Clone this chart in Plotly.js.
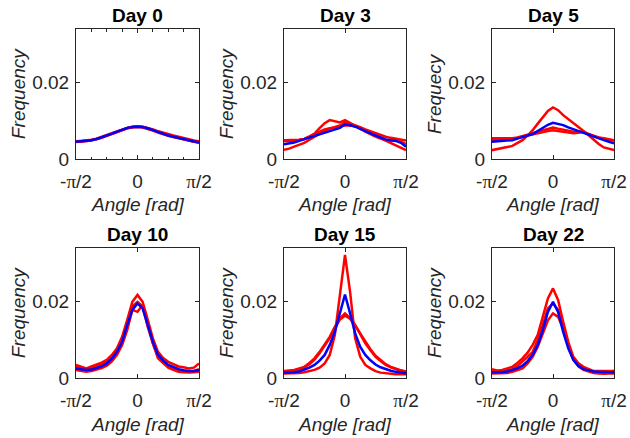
<!DOCTYPE html>
<html>
<head>
<meta charset="utf-8">
<script src="https://cdn.plot.ly/plotly-3.0.1.min.js"></script>
<style>html,body{margin:0;padding:0;background:#fff;}#chart{width:630px;height:438px;}</style>
</head>
<body>
<div id="chart"></div>
<script>
// Angle grid (rad), read at 25 positions from -pi/2 to pi/2
const angle = [-1.5708,-1.4399,-1.3090,-1.1781,-1.0472,-0.9163,-0.7854,-0.6545,-0.5236,-0.3927,-0.2618,-0.1309,0,
               0.1309,0.2618,0.3927,0.5236,0.6545,0.7854,0.9163,1.0472,1.1781,1.3090,1.4399,1.5708];

const dayTitles = ["Day 0","Day 3","Day 5","Day 10","Day 15","Day 22"];
const yLabels = ["Frequency","Frequency","Frequecy","Frequency","Frequency","Frequency"];
const xTickVals = [-1.5708, 0, 1.5708];
const xTickText = ['-<span style="font-family:Liberation Serif">π</span>/2','0','<span style="font-family:Liberation Serif">π</span>/2'];
const yTickVals = [0, 0.02];
const yTickText = ['0','0.02'];

// Day 0
const d0_r1 = [.0044,.0046,.0047,.0050,.0053,.0057,.0062,.0067,.0072,.0077,.0081,.0084,.0085,.0084,.0081,.0077,.0072,.0068,.0064,.0061,.0058,.0054,.0051,.0048,.0046];
const d0_r2 = [.0046,.0047,.0048,.0049,.0052,.0055,.0060,.0065,.0070,.0075,.0080,.0082,.0083,.0082,.0079,.0074,.0069,.0064,.0060,.0057,.0054,.0050,.0047,.0044,.0042];
const d0_r3 = [.0045,.0045,.0046,.0049,.0051,.0056,.0061,.0066,.0071,.0076,.0080,.0083,.0085,.0083,.0080,.0076,.0071,.0066,.0062,.0058,.0055,.0051,.0047,.0045,.0044];
const d0_mean = [.0045,.0046,.0047,.0049,.0052,.0056,.0061,.0066,.0071,.0076,.0081,.0083,.0084,.0083,.0080,.0075,.0070,.0065,.0061,.0058,.0055,.0051,.0048,.0045,.0043];
// Day 3
const d3_r1 = [.0047,.0046,.0047,.0049,.0052,.0058,.0066,.0080,.0093,.0101,.0097,.0095,.0101,.0094,.0088,.0079,.0071,.0064,.0058,.0053,.0049,.0048,.0048,.0045,.0039];
const d3_r2 = [.0024,.0027,.0032,.0037,.0042,.0050,.0058,.0066,.0073,.0079,.0084,.0087,.0088,.0087,.0086,.0081,.0075,.0068,.0062,.0055,.0048,.0042,.0036,.0030,.0023];
const d3_r3 = [.0049,.0049,.0050,.0050,.0052,.0058,.0064,.0070,.0077,.0080,.0082,.0086,.0096,.0092,.0088,.0083,.0077,.0072,.0067,.0062,.0058,.0055,.0052,.0050,.0048];
const d3_mean = [.0038,.0040,.0043,.0047,.0052,.0056,.0060,.0064,.0068,.0073,.0077,.0081,.0090,.0088,.0084,.0078,.0071,.0066,.0061,.0056,.0051,.0049,.0047,.0042,.0032];
// Day 5
const d5_r1 = [.0023,.0025,.0028,.0031,.0034,.0041,.0049,.0061,.0075,.0092,.0110,.0125,.0134,.0127,.0114,.0103,.0093,.0083,.0073,.0061,.0049,.0039,.0030,.0026,.0023];
const d5_r2 = [.0054,.0054,.0053,.0054,.0054,.0056,.0059,.0063,.0067,.0071,.0075,.0079,.0082,.0079,.0076,.0073,.0071,.0071,.0070,.0064,.0059,.0056,.0054,.0051,.0049];
const d5_r3 = [.0049,.0050,.0051,.0051,.0052,.0055,.0058,.0061,.0064,.0068,.0071,.0073,.0075,.0073,.0071,.0069,.0067,.0068,.0071,.0065,.0060,.0055,.0051,.0050,.0048];
const d5_mean = [.0045,.0046,.0047,.0048,.0049,.0053,.0058,.0061,.0065,.0073,.0082,.0089,.0094,.0091,.0088,.0082,.0077,.0072,.0068,.0063,.0058,.0053,.0049,.0045,.0041];
// Day 10
const d10_r1 = [.0034,.0030,.0025,.0030,.0034,.0040,.0047,.0060,.0077,.0107,.0151,.0198,.0216,.0198,.0151,.0103,.0068,.0052,.0042,.0036,.0030,.0028,.0025,.0027,.0038];
const d10_r2 = [.0021,.0018,.0016,.0018,.0021,.0026,.0032,.0043,.0060,.0086,.0125,.0177,.0172,.0190,.0143,.0090,.0051,.0038,.0027,.0021,.0016,.0015,.0014,.0015,.0016];
const d10_r3 = [.0030,.0027,.0023,.0026,.0030,.0035,.0042,.0053,.0071,.0100,.0142,.0186,.0198,.0186,.0133,.0090,.0055,.0042,.0032,.0026,.0020,.0018,.0016,.0018,.0023];
const d10_mean = [.0025,.0023,.0021,.0022,.0025,.0030,.0038,.0050,.0068,.0094,.0138,.0177,.0194,.0181,.0138,.0094,.0060,.0045,.0034,.0028,.0023,.0020,.0018,.0018,.0021];
// Day 15
const d15_r1 = [.0012,.0012,.0012,.0013,.0015,.0018,.0021,.0027,.0038,.0060,.0112,.0216,.0320,.0224,.0103,.0055,.0034,.0025,.0018,.0014,.0012,.0011,.0010,.0010,.0010];
const d15_r2 = [.0018,.0019,.0021,.0025,.0029,.0039,.0051,.0068,.0086,.0107,.0133,.0155,.0168,.0156,.0138,.0112,.0090,.0072,.0055,.0044,.0034,.0028,.0023,.0019,.0016];
const d15_r3 = [.0016,.0017,.0019,.0022,.0027,.0036,.0048,.0064,.0083,.0104,.0130,.0152,.0162,.0154,.0136,.0116,.0094,.0075,.0058,.0046,.0036,.0029,.0024,.0020,.0017];
const d15_mean = [.0014,.0014,.0015,.0017,.0021,.0027,.0034,.0045,.0060,.0086,.0120,.0172,.0217,.0168,.0116,.0081,.0060,.0046,.0035,.0028,.0023,.0019,.0016,.0014,.0012];
// Day 22
const d22_r1 = [.0017,.0019,.0021,.0025,.0029,.0039,.0051,.0066,.0086,.0112,.0159,.0207,.0233,.0203,.0146,.0094,.0055,.0038,.0029,.0023,.0018,.0018,.0018,.0018,.0018];
const d22_r2 = [.0012,.0012,.0012,.0013,.0016,.0020,.0025,.0038,.0055,.0081,.0116,.0150,.0168,.0159,.0129,.0086,.0051,.0030,.0021,.0016,.0013,.0012,.0011,.0012,.0012];
const d22_r3 = [.0023,.0019,.0016,.0020,.0023,.0031,.0042,.0055,.0068,.0099,.0138,.0181,.0194,.0177,.0129,.0082,.0047,.0032,.0023,.0019,.0016,.0016,.0016,.0017,.0018];
const d22_mean = [.0015,.0015,.0015,.0017,.0021,.0025,.0032,.0044,.0060,.0086,.0125,.0172,.0198,.0172,.0120,.0077,.0047,.0031,.0023,.0019,.0017,.0016,.0015,.0015,.0015];

const panels = [
  {reds:[d0_r1,d0_r2,d0_r3], mean:d0_mean},
  {reds:[d3_r1,d3_r2,d3_r3], mean:d3_mean},
  {reds:[d5_r1,d5_r2,d5_r3], mean:d5_mean},
  {reds:[d10_r1,d10_r2,d10_r3], mean:d10_mean},
  {reds:[d15_r1,d15_r2,d15_r3], mean:d15_mean},
  {reds:[d22_r1,d22_r2,d22_r3], mean:d22_mean}
];

const W = 630, H = 438;
// plot boxes in pixels: [left, right, top, bottom]
const colsPx = [[76,199],[284,406],[492,614]];
const rowsPx = [[29,159],[248,378]];
const FONT = 'Liberation Sans, Arial, sans-serif';
const AX = '#262626';

const traces = [];
const layout = {
  width: W, height: H,
  margin: {l:0, r:0, t:0, b:0},
  paper_bgcolor: '#fff', plot_bgcolor: '#fff',
  showlegend: false,
  font: {family: FONT, size: 19, color: AX},
  annotations: []
};

panels.forEach((p, i) => {
  const n = i + 1;
  const xa = n === 1 ? 'x' : 'x' + n;
  const ya = n === 1 ? 'y' : 'y' + n;
  p.reds.forEach(r => traces.push({x: angle, y: r, xaxis: xa, yaxis: ya, mode: 'lines',
    line: {color: '#ff0000', width: 2.5}, hoverinfo: 'skip'}));
  traces.push({x: angle, y: p.mean, xaxis: xa, yaxis: ya, mode: 'lines',
    line: {color: '#0000ff', width: 2.5}, hoverinfo: 'skip'});

  const c = colsPx[i % 3], r = rowsPx[Math.floor(i / 3)];
  const xdom = [c[0] / W, c[1] / W];
  const ydom = [1 - r[1] / H, 1 - r[0] / H];
  const xaxis = {
    domain: xdom, anchor: ya, range: [-1.5708, 1.5708],
    tickmode: 'array', tickvals: xTickVals, ticktext: xTickText,
    ticks: 'inside', ticklen: 4, tickcolor: AX, tickwidth: 1,
    showline: true, linecolor: AX, linewidth: 1, mirror: 'ticks',
    showgrid: false, zeroline: false, fixedrange: true,
    ticklabelstandoff: 5,
    tickfont: {family: FONT, size: 19, color: AX}
  };
  if (i === 0) {
    xaxis.minor = {tickmode: 'array', tickvals: [-1.1781,-0.7854,-0.3927,0.3927,0.7854,1.1781],
      ticks: 'inside', ticklen: 2.5, tickcolor: AX, showgrid: false};
  }
  const yaxis = {
    domain: ydom, anchor: xa, range: [0, 0.0338],
    tickmode: 'array', tickvals: yTickVals, ticktext: yTickText,
    ticks: 'inside', ticklen: 4, tickcolor: AX, tickwidth: 1,
    showline: true, linecolor: AX, linewidth: 1, mirror: 'ticks',
    showgrid: false, zeroline: false, fixedrange: true,
    ticklabelstandoff: 2,
    tickfont: {family: FONT, size: 19, color: AX}
  };
  layout['xaxis' + (n === 1 ? '' : n)] = xaxis;
  layout['yaxis' + (n === 1 ? '' : n)] = yaxis;

  const cx = (c[0] + c[1]) / 2 / W;
  layout.annotations.push({text: '<b>' + dayTitles[i] + '</b>', xref: 'paper', yref: 'paper',
    x: cx, y: 1 - (r[0] - 14) / H, xanchor: 'center', yanchor: 'middle', showarrow: false,
    font: {family: FONT, size: 19, color: '#000'}});
  layout.annotations.push({text: '<i>Angle [rad]</i>', xref: 'paper', yref: 'paper',
    x: cx, y: 1 - (r[1] + 46) / H, xanchor: 'center', yanchor: 'middle', showarrow: false,
    font: {family: FONT, size: 19, color: AX}});
  layout.annotations.push({text: '<i>' + yLabels[i] + '</i>', xref: 'paper', yref: 'paper',
    x: (c[0] - 58) / W, y: 1 - (r[0] + r[1]) / 2 / H, xanchor: 'center', yanchor: 'middle',
    textangle: -90, showarrow: false,
    font: {family: FONT, size: 19, color: AX}});
});

Plotly.newPlot('chart', traces, layout, {staticPlot: true, displayModeBar: false});
</script>
</body>
</html>
